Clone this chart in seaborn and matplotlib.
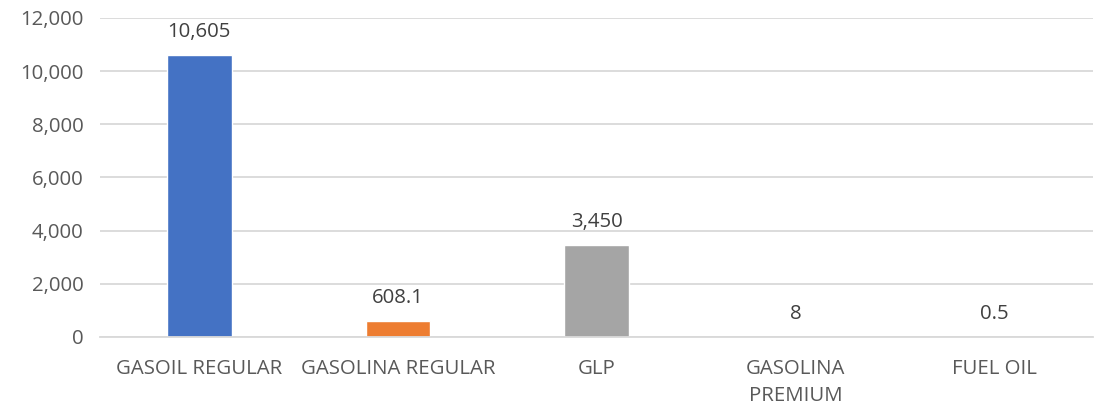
import matplotlib
matplotlib.use("Agg")
import matplotlib.pyplot as plt
import seaborn as sns
import pandas as pd
from matplotlib.ticker import FuncFormatter

# Fuel volumes by product
categories = ["GASOIL REGULAR", "GASOLINA REGULAR", "GLP", "GASOLINA\nPREMIUM", "FUEL OIL"]
values = [10605, 608.1, 3450, 8, 0.5]
value_labels = ["10,605", "608.1", "3,450", "8", "0.5"]
bar_colors = ["#4472C4", "#ED7D31", "#A5A5A5", "#FFC000", "#5B9BD5"]
y_ticks = [0, 2000, 4000, 6000, 8000, 10000, 12000]

sns.set_theme(style="white")
plt.rcParams["font.family"] = ["Open Sans", "DejaVu Sans"]

text_color = "#595959"
label_color = "#404040"
grid_color = "#D9D9D9"

df = pd.DataFrame({"producto": categories, "valor": values})

fig = plt.figure(figsize=(10.94, 4.07), dpi=100)
ax = fig.add_axes([0.0914, 0.172, 0.908, 0.784])

sns.barplot(data=df, x="producto", y="valor", hue="producto",
            palette=bar_colors, width=0.325, legend=False, ax=ax,
            saturation=1)

ax.set_ylim(0, 12000)
ax.set_yticks(y_ticks)
ax.yaxis.set_major_formatter(FuncFormatter(lambda v, p: f"{v:,.0f}"))
ax.grid(axis="y", color=grid_color, linewidth=1.3)
ax.set_axisbelow(True)

for side in ["top", "right", "left"]:
    ax.spines[side].set_visible(False)
ax.spines["bottom"].set_color(grid_color)
ax.spines["bottom"].set_linewidth(1.3)

ax.tick_params(axis="both", length=0, colors=text_color, labelsize=14.7)
ax.tick_params(axis="x", pad=16)
ax.tick_params(axis="y", pad=12)
for t in ax.get_xticklabels():
    t.set_linespacing(1.45)
ax.set_xlabel("")
ax.set_ylabel("")
ax.set_xlim(-0.5, len(categories) - 0.5)

for i, (v, lab) in enumerate(zip(values, value_labels)):
    ax.annotate(lab, xy=(i, v), xytext=(0, 9.5), textcoords="offset points",
                ha="center", va="bottom", fontsize=14.7, color=label_color)

fig.savefig("out.png", dpi=100)
